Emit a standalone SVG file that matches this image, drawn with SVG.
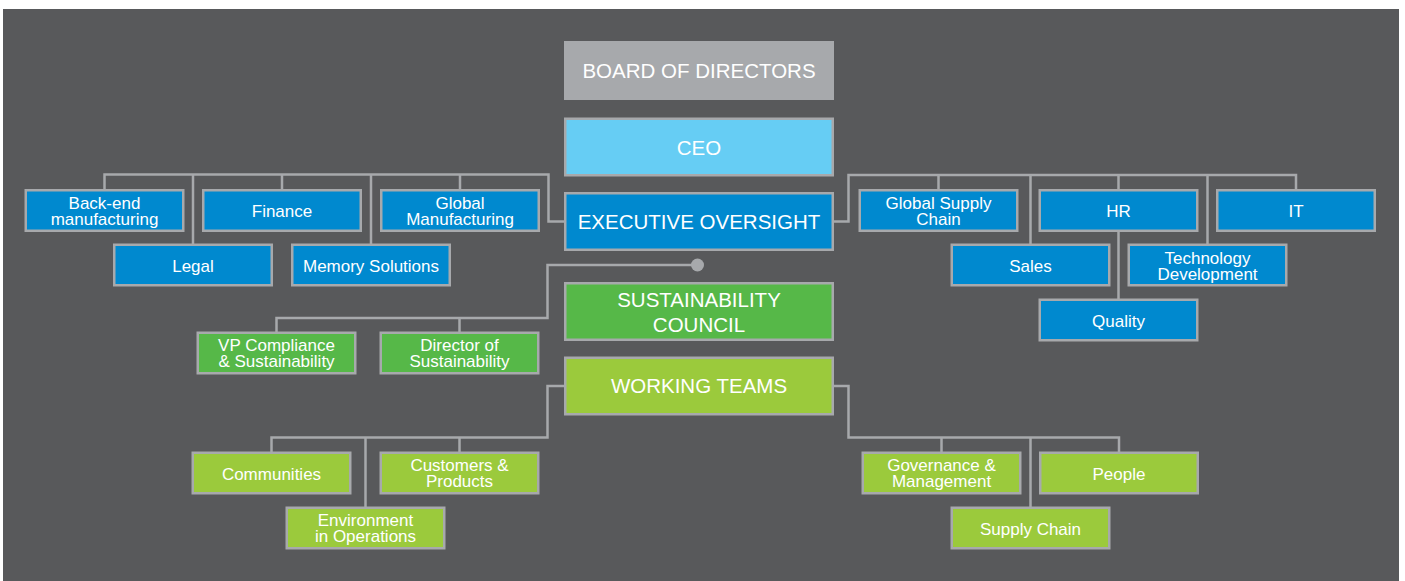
<svg xmlns="http://www.w3.org/2000/svg" width="1405" height="581" viewBox="0 0 1405 581">
<style>
.bg{fill:#ffffff}
.panel{fill:#58595b}
.conn{fill:none;stroke:#a7a9ac;stroke-width:2.5;stroke-linejoin:miter;stroke-linecap:butt}
.box{stroke:#a7a9ac;stroke-width:2.5}
.blue{fill:#0089cf}
.sky{fill:#66cdf4}
.grey{fill:#a7a9ac}
.green{fill:#56b848}
.lime{fill:#9bca3c}
text{fill:#ffffff;font-family:"Liberation Sans",Arial,Helvetica,sans-serif;text-anchor:middle}
.s{font-size:17px}
.b{font-size:20.5px}
</style>
<rect class="bg" x="0" y="0" width="1405" height="581"/>
<rect class="panel" x="3" y="9" width="1396" height="572"/>

<g id="connectors">
<path class="conn" d="M564,221.5 H548.5 V174.5 H104.5 V190"/>
<path class="conn" d="M193,174.5 V245 M282,174.5 V190 M371,174.5 V245 M460,174.5 V190"/>
<path class="conn" d="M834,221.5 H848.5 V175 H1296 V190"/>
<path class="conn" d="M938.5,175 V190 M1030.5,175 V245 M1118.5,175 V190 M1207.5,175 V245 M1118.5,231 V300"/>
<path class="conn" d="M697.5,265 H547.5 V318 H276.5 V333 M459.5,318 V333"/>
<circle cx="697.5" cy="265" r="6.5" fill="#a7a9ac"/>
<path class="conn" d="M564,386 H547.5 V437.5 H271.5 V453 M365.5,437.5 V508 M459.5,437.5 V453"/>
<path class="conn" d="M834,386 H848.5 V437.5 H1119 V453 M941.5,437.5 V453 M1030.5,437.5 V508"/>
</g>

<g id="board"><rect class="box grey" x="565.25" y="42.25" width="267.5" height="56.5"/><text class="b" x="699" y="78.3">BOARD OF DIRECTORS</text></g>
<g id="ceo"><rect class="box sky" x="565.25" y="118.75" width="267.5" height="56.5"/><text class="b" x="699" y="155">CEO</text></g>
<g id="exec"><rect class="box blue" x="565.25" y="193.25" width="267.5" height="56.5"/><text class="b" x="699" y="229">EXECUTIVE OVERSIGHT</text></g>
<g id="council"><rect class="box green" x="565.25" y="283.25" width="267.5" height="56.5"/><text class="b" x="699" y="306.7">SUSTAINABILITY</text><text class="b" x="699" y="331.7">COUNCIL</text></g>
<g id="teams"><rect class="box lime" x="565.25" y="357.75" width="267.5" height="56.5"/><text class="b" x="699" y="393.3">WORKING TEAMS</text></g>

<g id="backend"><rect class="box blue" x="25.75" y="190.25" width="157.5" height="40.5"/><text class="s" x="104.5" y="209">Back-end</text><text class="s" x="104.5" y="225">manufacturing</text></g>
<g id="finance"><rect class="box blue" x="203.25" y="190.25" width="157.5" height="40.5"/><text class="s" x="282" y="217">Finance</text></g>
<g id="globalmfg"><rect class="box blue" x="381.25" y="190.25" width="157.5" height="40.5"/><text class="s" x="460" y="209">Global</text><text class="s" x="460" y="225">Manufacturing</text></g>
<g id="legal"><rect class="box blue" x="114.25" y="244.75" width="157.5" height="40.5"/><text class="s" x="193" y="271.5">Legal</text></g>
<g id="memory"><rect class="box blue" x="292.25" y="244.75" width="157.5" height="40.5"/><text class="s" x="371" y="271.5">Memory Solutions</text></g>

<g id="gsc"><rect class="box blue" x="859.75" y="190.25" width="157.5" height="40.5"/><text class="s" x="938.5" y="209">Global Supply</text><text class="s" x="938.5" y="225">Chain</text></g>
<g id="hr"><rect class="box blue" x="1039.75" y="190.25" width="157.5" height="40.5"/><text class="s" x="1118.5" y="217">HR</text></g>
<g id="it"><rect class="box blue" x="1217.25" y="190.25" width="157.5" height="40.5"/><text class="s" x="1296" y="217">IT</text></g>
<g id="sales"><rect class="box blue" x="951.75" y="244.75" width="157.5" height="40.5"/><text class="s" x="1030.5" y="271.5">Sales</text></g>
<g id="techdev"><rect class="box blue" x="1128.75" y="244.75" width="157.5" height="40.5"/><text class="s" x="1207.5" y="263.5">Technology</text><text class="s" x="1207.5" y="279.5">Development</text></g>
<g id="quality"><rect class="box blue" x="1039.75" y="299.75" width="157.5" height="40.5"/><text class="s" x="1118.5" y="326.5">Quality</text></g>

<g id="vp"><rect class="box green" x="197.75" y="332.75" width="157.5" height="40.5"/><text class="s" x="276.5" y="351">VP Compliance</text><text class="s" x="276.5" y="367">&amp; Sustainability</text></g>
<g id="director"><rect class="box green" x="380.75" y="332.75" width="157.5" height="40.5"/><text class="s" x="459.5" y="351">Director of</text><text class="s" x="459.5" y="367">Sustainability</text></g>

<g id="communities"><rect class="box lime" x="192.75" y="452.75" width="157.5" height="40.5"/><text class="s" x="271.5" y="479.5">Communities</text></g>
<g id="customers"><rect class="box lime" x="380.75" y="452.75" width="157.5" height="40.5"/><text class="s" x="459.5" y="471">Customers &amp;</text><text class="s" x="459.5" y="487">Products</text></g>
<g id="environment"><rect class="box lime" x="286.75" y="507.75" width="157.5" height="40.5"/><text class="s" x="365.5" y="526">Environment</text><text class="s" x="365.5" y="542">in Operations</text></g>
<g id="governance"><rect class="box lime" x="862.75" y="452.75" width="157.5" height="40.5"/><text class="s" x="941.5" y="471">Governance &amp;</text><text class="s" x="941.5" y="487">Management</text></g>
<g id="people"><rect class="box lime" x="1040.25" y="452.75" width="157.5" height="40.5"/><text class="s" x="1119" y="479.5">People</text></g>
<g id="supplychain"><rect class="box lime" x="951.75" y="507.75" width="157.5" height="40.5"/><text class="s" x="1030.5" y="534.5">Supply Chain</text></g>
</svg>
